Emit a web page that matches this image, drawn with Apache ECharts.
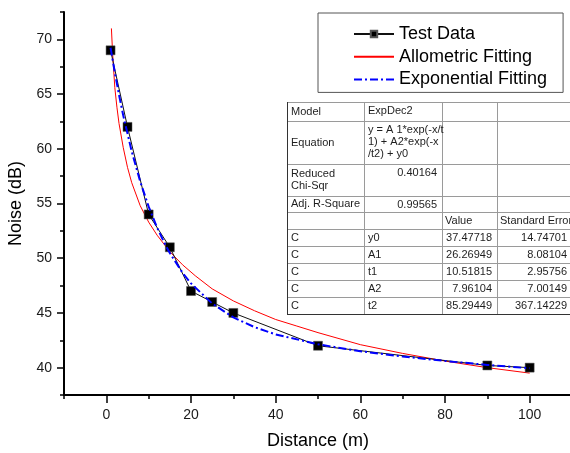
<!DOCTYPE html>
<html>
<head>
<meta charset="utf-8">
<script src="https://cdn.jsdelivr.net/npm/echarts@6/dist/echarts.min.js"></script>
<style>
html,body{margin:0;padding:0;background:#fff;}
#chart{width:570px;height:453px;}
</style>
</head>
<body>
<div id="chart"></div>
<script>
// ---- data ----
const testX = [1, 5, 10, 15, 20, 25, 30, 50, 90, 100];
const testY = [69, 62, 54, 51, 47, 46, 45, 42, 40.2, 40];

const alloX = [1.2, 1.5, 2, 2.5, 3, 4, 5, 6, 8, 10, 12, 15, 18, 21, 25, 30, 35, 40, 45, 50, 60, 70, 80, 90, 100];
const alloY = [71.0, 68.6, 65.6, 63.8, 62.3, 60.1, 58.3, 56.9, 54.8, 53.3, 52.1, 50.6, 49.4, 48.4, 47.2, 46.1, 45.2, 44.4, 43.8, 43.2, 42.1, 41.3, 40.6, 40.0, 39.5];

const expX = [1, 2, 3, 4, 6, 8, 10, 12, 14, 15, 18, 20, 25, 30, 35, 40, 50, 60, 70, 80, 90, 100];
const expY = [69.23, 66.97, 64.92, 63.03, 59.75, 57.01, 54.71, 52.79, 51.17, 50.47, 48.67, 47.70, 45.86, 44.59, 43.70, 43.04, 42.13, 41.50, 41.02, 40.61, 40.25, 39.94];

const seriesNames = ['Test Data', 'Allometric Fitting', 'Exponential Fitting'];

const xTickLabels = [0, 20, 40, 60, 80, 100];
const xMinorTicks = [-10, 10, 30, 50, 70, 90, 110];
const yTickLabels = [40, 45, 50, 55, 60, 65, 70];
const yMinorTicks = [37.5, 42.5, 47.5, 52.5, 57.5, 62.5, 67.5, 72.5];

const tableRows = [
  ['Model', 'ExpDec2', '', ''],
  ['Equation', 'y = A 1*exp(-x/t\n1) + A2*exp(-x\n/t2) + y0', '', ''],
  ['Reduced\nChi-Sqr', '0.40164', '', ''],
  ['Adj. R-Square', '0.99565', '', ''],
  ['', '', 'Value', 'Standard Error'],
  ['C', 'y0', '37.47718', '14.74701'],
  ['C', 'A1', '26.26949', '8.08104'],
  ['C', 't1', '10.51815', '2.95756'],
  ['C', 'A2', '7.96104', '7.00149'],
  ['C', 't2', '85.29449', '367.14229']
];

// ---- helpers ----
function pairs(xs, ys) { return xs.map((x, i) => [x, ys[i]]); }

// ---- table graphic ----
const colX = [287, 364, 442, 497, 580];
const rowY = [102, 121, 164, 196, 212, 229, 246, 263, 280, 297, 314];
const font = '11px "Liberation Sans", Arial, sans-serif';
const tColor = '#1e1e1e';
const els = [];
els.push({ type: 'rect', z: 100, shape: { x: colX[0], y: rowY[0], width: 300, height: rowY[rowY.length - 1] - rowY[0] }, style: { fill: '#fff', stroke: null } });
for (let i = 0; i < rowY.length; i++) {
  const last = i === rowY.length - 1;
  els.push({ type: 'line', z: 101, shape: { x1: colX[0], y1: rowY[i] + 0.5, x2: 580, y2: rowY[i] + 0.5 }, style: { stroke: last ? '#333' : '#9a9a9a', lineWidth: 1 } });
}
for (let j = 0; j < colX.length - 1; j++) {
  els.push({ type: 'line', z: 101, shape: { x1: colX[j] + 0.5, y1: rowY[0], x2: colX[j] + 0.5, y2: rowY[rowY.length - 1] }, style: { stroke: j === 0 ? '#333' : '#9a9a9a', lineWidth: 1 } });
}
tableRows.forEach((row, r) => {
  const top = rowY[r], bot = rowY[r + 1], mid = (top + bot) / 2;
  row.forEach((txt, c) => {
    if (!txt) return;
    let x, y, align = 'left', va = 'middle';
    if (c === 0) { x = colX[0] + 4; y = mid; }
    else if (c === 1) {
      if (r <= 1) { x = colX[1] + 4; y = top + 3; va = 'top'; }
      else if (r <= 3) { x = colX[2] - 5; y = top + 3; va = 'top'; align = 'right'; }
      else { x = colX[1] + 4; y = mid; }
    } else if (c === 2) {
      if (r === 4) { x = colX[2] + 3; y = mid; }
      else { x = colX[3] - 5; y = mid; align = 'right'; }
    } else {
      if (r === 4) { x = colX[3] + 3; y = mid; }
      else { x = 567; y = mid; align = 'right'; }
    }
    els.push({ type: 'text', z: 102, style: { text: txt, x: x, y: y, font: font, fill: tColor, align: align, verticalAlign: va, lineHeight: 12 } });
  });
});

// ---- chart ----
const chart = echarts.init(document.getElementById('chart'), null, { renderer: 'canvas' });
const axisFont = { fontFamily: '"Liberation Sans", Arial, sans-serif', fontSize: 14, color: '#1a1a1a' };
chart.setOption({
  animation: false,
  backgroundColor: '#fff',
  grid: { left: 64, right: -2, top: 12, bottom: 58, containLabel: false, outerBoundsMode: 'none' },
  legend: {
    data: [
      { name: seriesNames[0] },
      { name: seriesNames[1], itemStyle: { opacity: 0 } },
      { name: seriesNames[2], itemStyle: { opacity: 0 } }
    ],
    orient: 'vertical',
    left: 318, top: 13,
    padding: [11, 16, 3, 35],
    itemWidth: 40, itemHeight: 8, itemGap: 2.7,
    borderColor: '#555', borderWidth: 1,
    backgroundColor: '#fff',
    textStyle: { fontFamily: '"Liberation Sans", Arial, sans-serif', fontSize: 18, color: '#000', lineHeight: 20 },
    z: 50
  },
  xAxis: [
    {
      type: 'value', min: -10, max: 110, position: 'bottom',
      name: 'Distance (m)', nameLocation: 'middle', nameGap: 37,
      nameTextStyle: { fontFamily: '"Liberation Sans", Arial, sans-serif', fontSize: 18, color: '#000' },
      axisLine: { show: true, onZero: false, lineStyle: { color: '#000', width: 2 } },
      axisTick: { show: true, length: 8, customValues: xTickLabels, lineStyle: { color: '#000', width: 1.5 } },
      axisLabel: Object.assign({ margin: 13, customValues: xTickLabels }, axisFont),
      splitLine: { show: false }
    },
    {
      type: 'value', min: -10, max: 110, position: 'bottom', gridIndex: 0,
      axisLine: { show: false, onZero: false },
      axisTick: { show: true, length: 4, customValues: xMinorTicks, lineStyle: { color: '#000', width: 1.5 } },
      axisLabel: { show: false },
      splitLine: { show: false }
    }
  ],
  yAxis: [
    {
      type: 'value', min: 37.5, max: 72.5, position: 'left',
      name: 'Noise (dB)', nameLocation: 'middle', nameGap: 37, nameRotate: 90,
      nameTextStyle: { fontFamily: '"Liberation Sans", Arial, sans-serif', fontSize: 18, color: '#000' },
      axisLine: { show: true, onZero: false, lineStyle: { color: '#000', width: 2 } },
      axisTick: { show: true, length: 7, customValues: yTickLabels, lineStyle: { color: '#000', width: 1.5 } },
      axisLabel: Object.assign({ margin: 12, customValues: yTickLabels }, axisFont),
      splitLine: { show: false }
    },
    {
      type: 'value', min: 37.5, max: 72.5, position: 'left', gridIndex: 0,
      axisLine: { show: false, onZero: false },
      axisTick: { show: true, length: 4, customValues: yMinorTicks, lineStyle: { color: '#000', width: 1.5 } },
      axisLabel: { show: false },
      splitLine: { show: false }
    }
  ],
  series: [
    {
      name: 'Allometric Fitting', type: 'line', data: pairs(alloX, alloY),
      showSymbol: false, symbol: 'none',
      lineStyle: { color: '#ff0000', width: 1 }, itemStyle: { color: '#ff0000' }, z: 2
    },
    {
      name: 'Test Data', type: 'line', data: pairs(testX, testY),
      symbol: 'rect', symbolSize: 9,
      lineStyle: { color: '#111', width: 1 }, itemStyle: { color: '#000', borderColor: '#555', borderWidth: 0.5 }, z: 3
    },
    {
      name: 'Exponential Fitting', type: 'line', data: pairs(expX, expY),
      showSymbol: false, symbol: 'none',
      lineStyle: { color: '#0000ff', width: 2, type: [8, 3, 2, 3] }, itemStyle: { color: '#0000ff' }, z: 4
    }
  ],
  graphic: { elements: els }
});
</script>
</body>
</html>
